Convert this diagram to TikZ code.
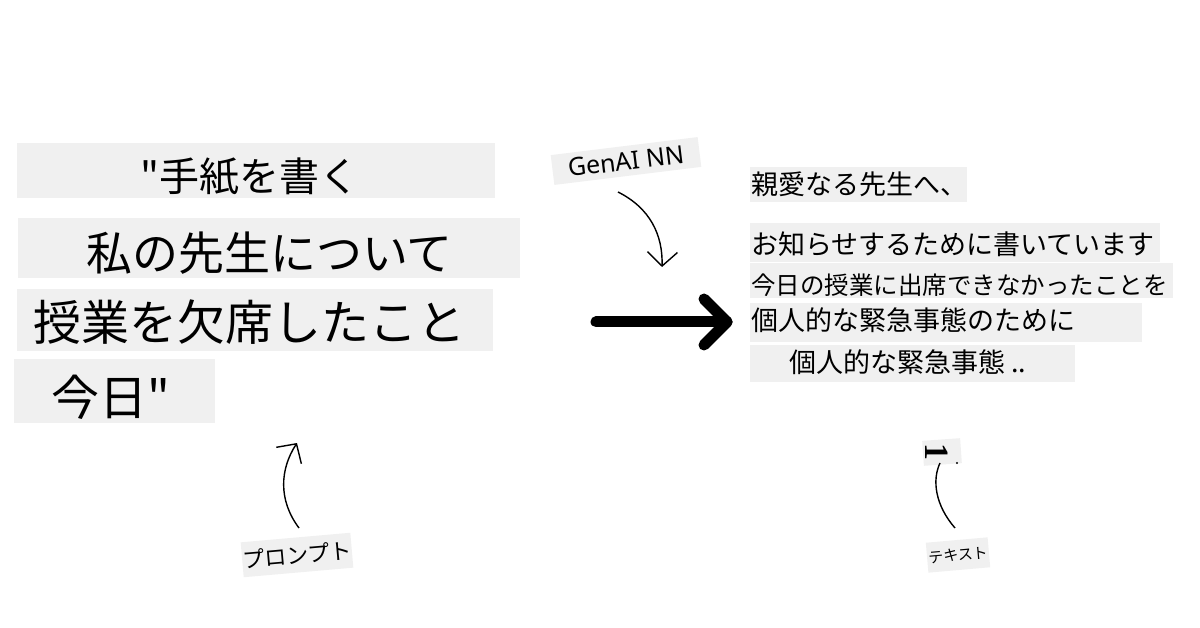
\documentclass[tikz,border=0pt]{standalone}
\usepackage{fontspec}
\setmainfont{Noto Sans}
\newfontfamily\jp{Noto Sans CJK JP}
\newfontfamily\serifb{Liberation Serif}
\usetikzlibrary{arrows.meta}
\definecolor{boxgray}{RGB}{240,240,240}
\newcommand{\fsz}[1]{\fontsize{#1}{#1}\selectfont}
\begin{document}
\begin{tikzpicture}[x=1pt,y=-1pt,
  bx/.style={fill=boxgray, draw=none, inner sep=0pt, anchor=north west},
  jt/.style={inner sep=0pt, anchor=west, text=black},
  tag/.style={fill=boxgray, draw=none, inner sep=0pt},
  thinarrow/.style={line width=1.4pt, -{Straight Barb[length=14pt,width=30pt]}},
  thinline/.style={line width=1.4pt},
  bigarrow/.style={line width=11pt, line cap=round, line join=round}]
\path[use as bounding box, fill=white] (0,0) rectangle (1200,628);

% left prompt boxes
\node[bx, minimum width=478pt, minimum height=55pt] (b1) at (17,143) {};
\node[bx, minimum width=502pt, minimum height=60pt] (b2) at (18,218) {};
\node[bx, minimum width=476pt, minimum height=62pt] (b3) at (17,289) {};
\node[bx, minimum width=201pt, minimum height=64pt] (b4) at (14,359) {};
\node[jt, font={\jp\fsz{40pt}}] (t1) at (140,177) {"手紙を書く};
\node[jt, font={\jp\fsz{46pt}}] (t2) at (86,253) {私の先生について};
\node[jt, font={\jp\fsz{48pt}}] (t3) at (33,322) {授業を欠席したこと};
\node[jt, font={\jp\fsz{48pt}}] (t4) at (51,397) {今日"};

% right output boxes
\node[bx, minimum width=217pt, minimum height=35pt] (r1) at (750,167) {};
\node[bx, minimum width=410pt, minimum height=39pt] (r2) at (750,223) {};
\node[bx, minimum width=423pt, minimum height=35pt] (r3) at (750,263) {};
\node[bx, minimum width=392pt, minimum height=39pt] (r4) at (750,303) {};
\node[bx, minimum width=325pt, minimum height=37pt] (r5) at (750,345) {};
\node[jt, font={\jp\fsz{27pt}}] (s1) at (751,184) {親愛なる先生へ、};
\node[jt, font={\jp\fsz{27pt}}] (s2) at (751,244) {お知らせするために書いています};
\node[jt, font={\jp\fsz{24.5pt}}] (s3) at (751,285) {今日の授業に出席できなかったことを};
\node[jt, font={\jp\fsz{27pt}}] (s4) at (751,320) {個人的な緊急事態のために};
\node[jt, font={\jp\fsz{27pt}}] (s5) at (789,362) {個人的な緊急事態 ..};

% labels
\node[tag, rotate=7, minimum width=148pt, minimum height=30pt, font=\fsz{25pt}] (gen) at (626,161) {GenAI NN};
\node[tag, rotate=5, minimum width=110pt, minimum height=35pt, font={\jp\fsz{22pt}}] (prompt) at (297,555) {プロンプト};
\node[tag, rotate=5, minimum width=62pt, minimum height=30pt, font={\jp\fsz{15pt}}] (textlbl) at (958,555) {テキスト};
\node[tag, rotate=4, minimum width=38pt, minimum height=25pt] (onebox) at (942,452) {};
\node[inner sep=0pt, rotate=-90, font={\serifb\bfseries\fsz{34pt}}] (one) at (937,452) {1};
\fill (957,463) circle (1.2pt);

% connectors
\coordinate (g0) at (618,192);
\coordinate (g1) at (662,267);
\draw[thinarrow] (g0) .. controls (650,208) and (663,235) .. (g1);

\coordinate (p0) at (299,528);
\coordinate (p1) at (297,443);
\draw[thinarrow] (p0) .. controls (278,500) and (280,469) .. (p1);

\coordinate (x0) at (955,528);
\coordinate (x1) at (940,463);
\draw[thinline] (x0) .. controls (935,505) and (932,480) .. (x1);

\coordinate (bs) at (596,322);
\coordinate (be) at (727,322);
\coordinate (bw1) at (704,299);
\coordinate (bw2) at (704,345);
\draw[bigarrow] (bs) -- (be);
\draw[bigarrow] (bw1) -- (be) -- (bw2);
\end{tikzpicture}
\end{document}
